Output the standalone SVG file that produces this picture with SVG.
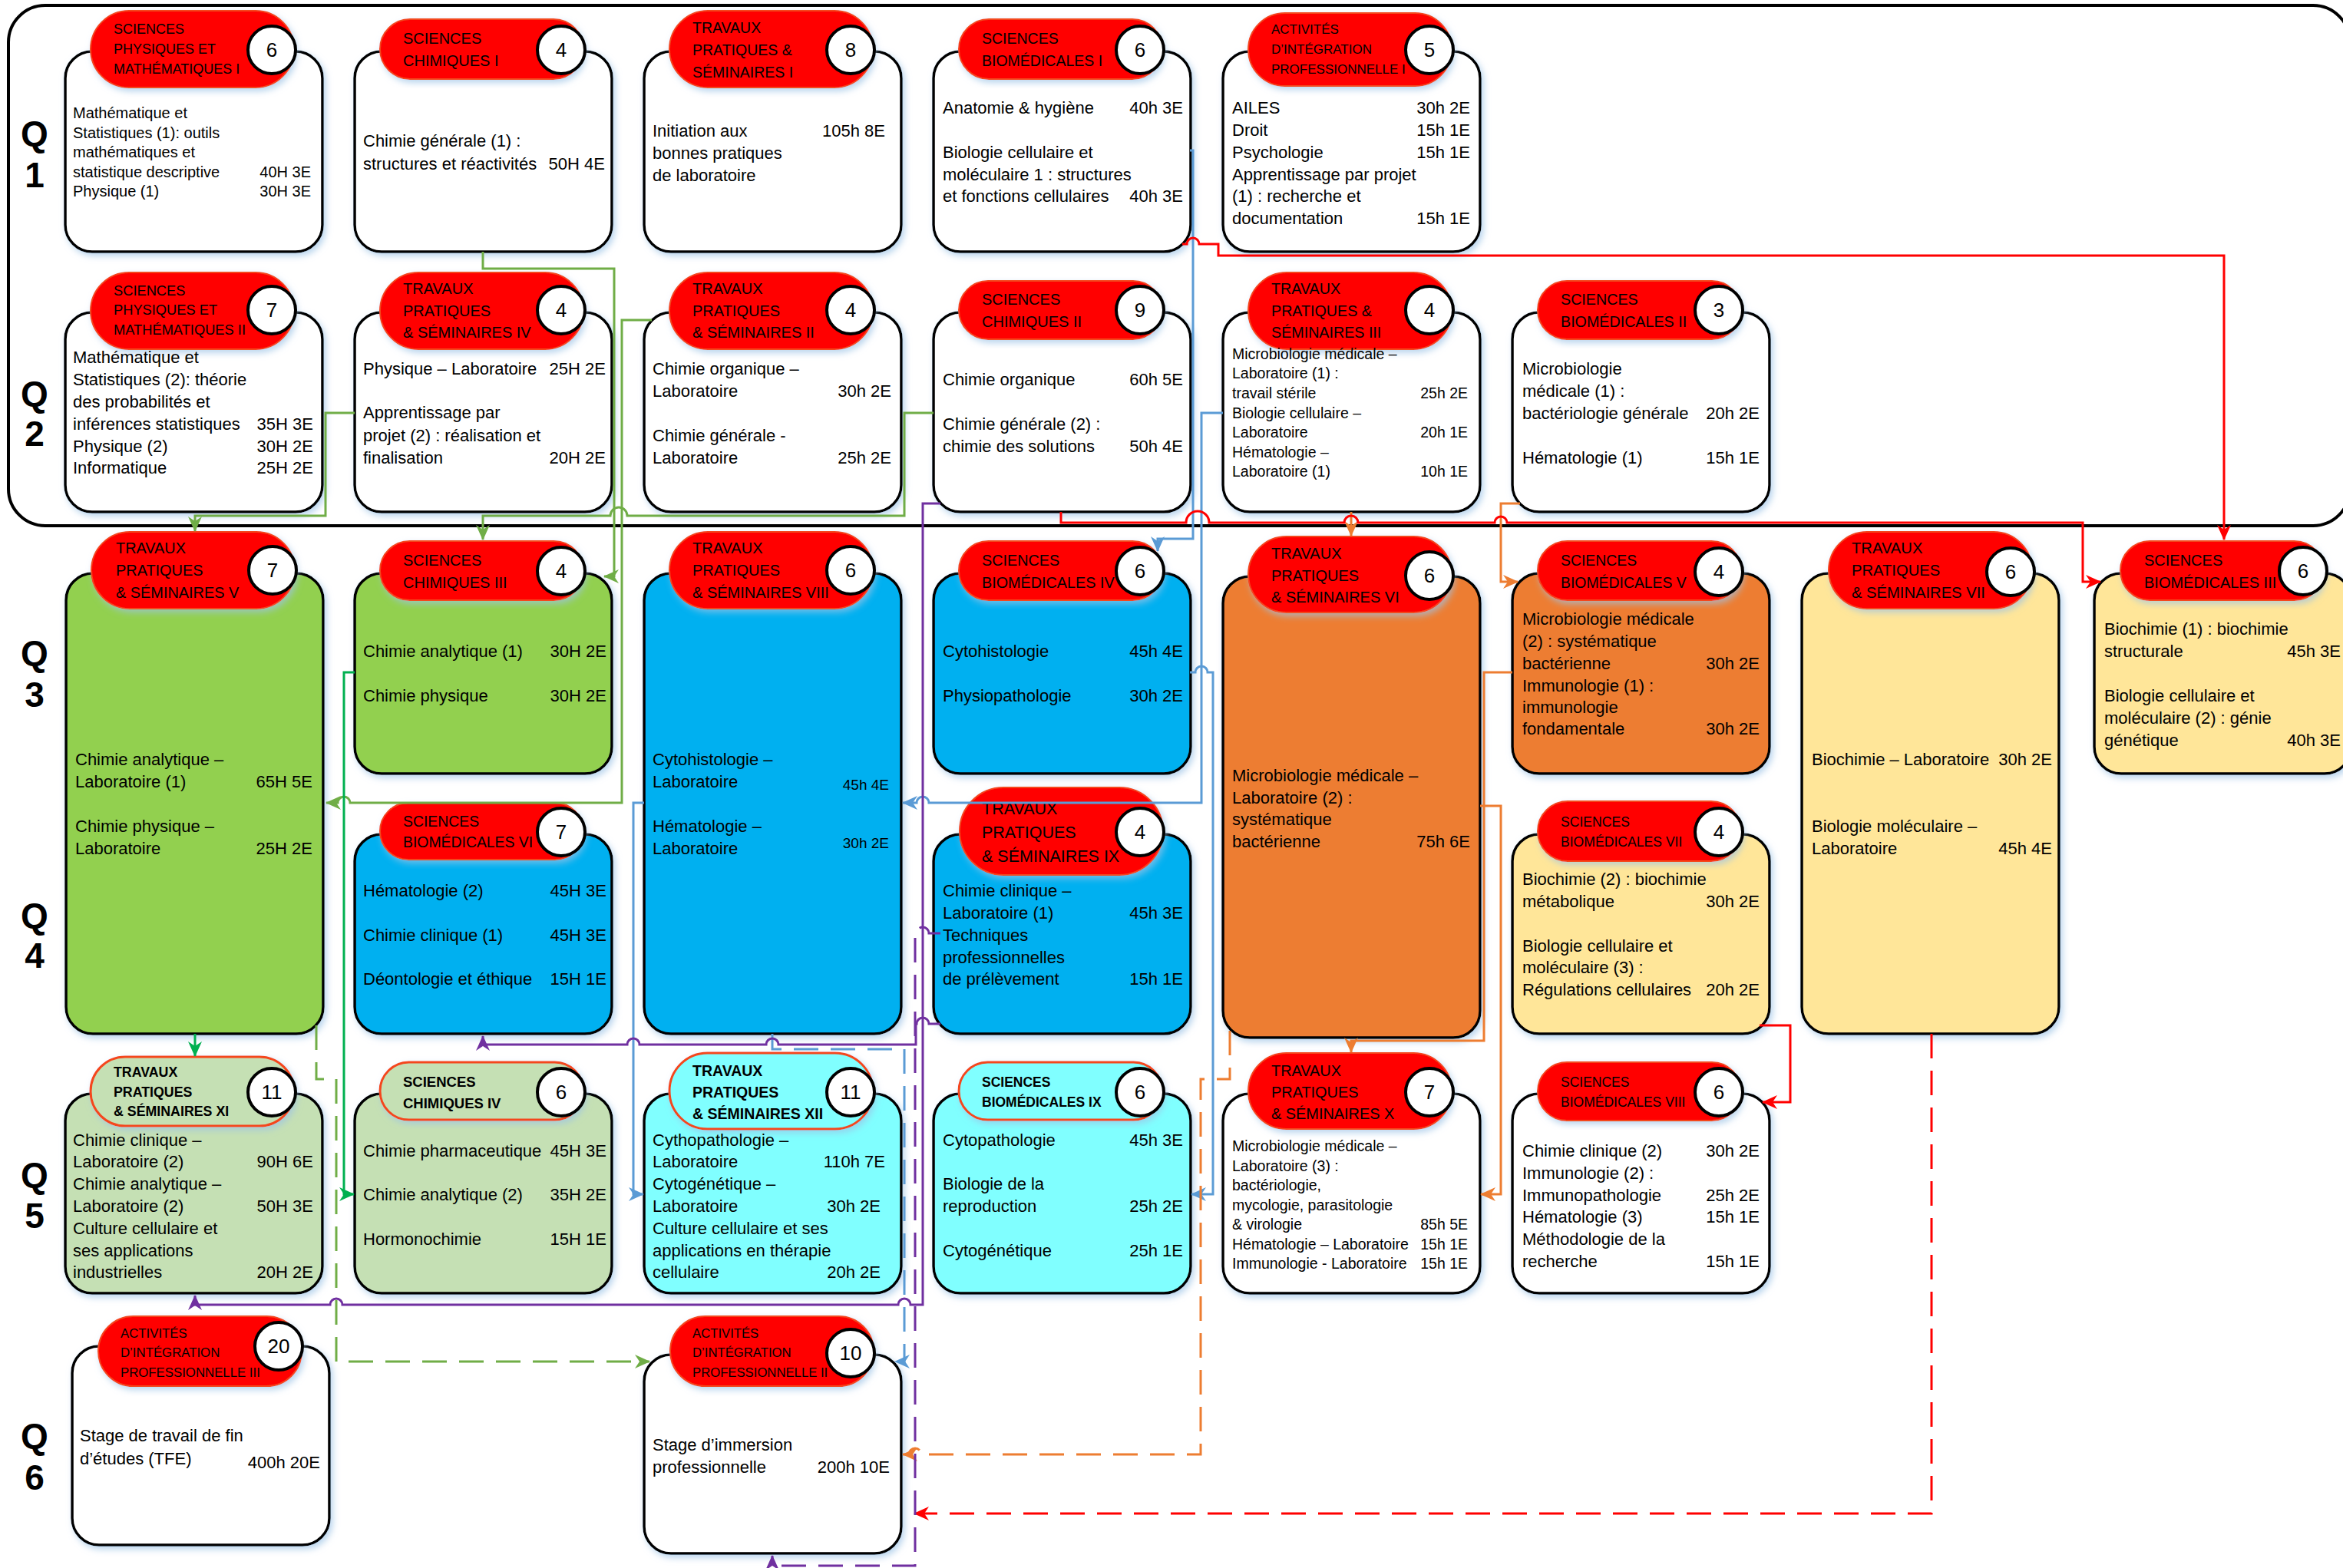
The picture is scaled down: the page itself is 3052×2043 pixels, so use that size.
<svg xmlns="http://www.w3.org/2000/svg" width="3052" height="2043" viewBox="0 0 3052 2043">
<style>
text{font-family:"Liberation Sans",Arial,sans-serif;fill:#000}
.box{stroke:#000;stroke-width:3.5;filter:url(#sh)}
.pill{fill:#FF0000;stroke:#F4471E;stroke-width:2;filter:url(#sh)}
.pl{stroke:#F4471E;stroke-width:3;filter:url(#sh)}
.circ{fill:#fff;stroke:#000;stroke-width:4}
.num{font-size:26px;text-anchor:middle}
.e{text-anchor:end}
.b{font-weight:bold}
.q{font-size:46px;font-weight:bold;text-anchor:middle}
.c{fill:none;stroke-width:3}
.d{stroke-dasharray:32 16}
.wh{fill:#fff}.gr{fill:#92D050}.bl{fill:#00B0F0}.or{fill:#ED7D31}.ye{fill:#FFE699}.lg{fill:#C5E0B4}.cy{fill:#80FFFF}
</style>
<defs>
<filter id="sh" x="-10%" y="-10%" width="125%" height="125%"><feDropShadow dx="3" dy="4" stdDeviation="4" flood-color="#9DC3E6" flood-opacity="0.7"/></filter>
<marker id="mG" markerUnits="userSpaceOnUse" markerWidth="20" markerHeight="18" refX="19" refY="9" orient="auto"><path d="M0,0 L20,9 L0,18 L6,9 Z" fill="#70AD47"/></marker>
<marker id="mD" markerUnits="userSpaceOnUse" markerWidth="20" markerHeight="18" refX="19" refY="9" orient="auto"><path d="M0,0 L20,9 L0,18 L6,9 Z" fill="#00B050"/></marker>
<marker id="mB" markerUnits="userSpaceOnUse" markerWidth="20" markerHeight="18" refX="19" refY="9" orient="auto"><path d="M0,0 L20,9 L0,18 L6,9 Z" fill="#5B9BD5"/></marker>
<marker id="mO" markerUnits="userSpaceOnUse" markerWidth="20" markerHeight="18" refX="19" refY="9" orient="auto"><path d="M0,0 L20,9 L0,18 L6,9 Z" fill="#ED7D31"/></marker>
<marker id="mR" markerUnits="userSpaceOnUse" markerWidth="20" markerHeight="18" refX="19" refY="9" orient="auto"><path d="M0,0 L20,9 L0,18 L6,9 Z" fill="#FF0000"/></marker>
<marker id="mP" markerUnits="userSpaceOnUse" markerWidth="20" markerHeight="18" refX="19" refY="9" orient="auto"><path d="M0,0 L20,9 L0,18 L6,9 Z" fill="#7030A0"/></marker>
</defs>
<rect width="3052" height="2043" fill="#fff"/>
<rect x="11" y="7" width="3050" height="678" rx="48" fill="none" stroke="#000" stroke-width="4"/>
<g id="qlabels">
<text class="q" x="45" y="190">Q</text><text class="q" x="45" y="244">1</text>
<text class="q" x="45" y="529">Q</text><text class="q" x="45" y="581">2</text>
<text class="q" x="45" y="867">Q</text><text class="q" x="45" y="921">3</text>
<text class="q" x="45" y="1209">Q</text><text class="q" x="45" y="1261">4</text>
<text class="q" x="45" y="1547">Q</text><text class="q" x="45" y="1600">5</text>
<text class="q" x="45" y="1887">Q</text><text class="q" x="45" y="1941">6</text>
</g>

<g id="n-spm1">
<rect class="box wh" x="85" y="67" width="335" height="261" rx="35"/>
<rect class="pill" x="118" y="14" width="265" height="100" rx="50"/>
<circle class="circ" cx="354" cy="65" r="31"/><text class="num" x="354" y="74">6</text>
<g font-size="18"><text x="148" y="44">SCIENCES</text><text x="148" y="70">PHYSIQUES ET</text><text x="148" y="96">MATHÉMATIQUES I</text></g>
<g font-size="20"><text x="95" y="154">Mathématique et</text><text x="95" y="180">Statistiques (1): outils</text><text x="95" y="205">mathématiques et</text><text x="95" y="231">statistique descriptive</text><text class="e" x="405" y="231">40H 3E</text><text x="95" y="256">Physique (1)</text><text class="e" x="405" y="256">30H 3E</text></g>
</g>

<g id="n-sc1">
<rect class="box wh" x="462" y="67" width="335" height="261" rx="35"/>
<rect class="pill" x="495" y="25" width="265" height="78" rx="39"/>
<circle class="circ" cx="731" cy="65" r="31"/><text class="num" x="731" y="74">4</text>
<g font-size="20"><text x="525" y="57">SCIENCES</text><text x="525" y="86">CHIMIQUES I</text></g>
<g font-size="22"><text x="473" y="191">Chimie générale (1) :</text><text x="473" y="221">structures et réactivités</text><text class="e" x="788" y="221">50H 4E</text></g>
</g>

<g id="n-tps1">
<rect class="box wh" x="839" y="67" width="335" height="261" rx="35"/>
<rect class="pill" x="872" y="14" width="265" height="100" rx="50"/>
<circle class="circ" cx="1108" cy="65" r="31"/><text class="num" x="1108" y="74">8</text>
<g font-size="19.5"><text x="902" y="43">TRAVAUX</text><text x="902" y="72">PRATIQUES &amp;</text><text x="902" y="101">SÉMINAIRES I</text></g>
<g font-size="22"><text x="850" y="178">Initiation aux</text><text class="e" x="1153" y="178">105h 8E</text><text x="850" y="207">bonnes pratiques</text><text x="850" y="236">de laboratoire</text></g>
</g>

<g id="n-sb1">
<rect class="box wh" x="1216" y="67" width="335" height="261" rx="35"/>
<rect class="pill" x="1249" y="25" width="265" height="78" rx="39"/>
<circle class="circ" cx="1485" cy="65" r="31"/><text class="num" x="1485" y="74">6</text>
<g font-size="19.5"><text x="1279" y="57">SCIENCES</text><text x="1279" y="86">BIOMÉDICALES I</text></g>
<g font-size="22"><text x="1228" y="148">Anatomie &amp; hygiène</text><text class="e" x="1541" y="148">40h 3E</text><text x="1228" y="206">Biologie cellulaire et</text><text x="1228" y="235">moléculaire 1 : structures</text><text x="1228" y="263">et fonctions cellulaires</text><text class="e" x="1541" y="263">40h 3E</text></g>
</g>

<g id="n-aip1">
<rect class="box wh" x="1593" y="67" width="335" height="261" rx="35"/>
<rect class="pill" x="1626" y="17" width="265" height="95" rx="47.5"/>
<circle class="circ" cx="1862" cy="65" r="31"/><text class="num" x="1862" y="74">5</text>
<g font-size="17"><text x="1656" y="44">ACTIVITÉS</text><text x="1656" y="70">D’INTÉGRATION</text><text x="1656" y="96">PROFESSIONNELLE I</text></g>
<g font-size="22"><text x="1605" y="148">AILES</text><text class="e" x="1915" y="148">30h 2E</text><text x="1605" y="177">Droit</text><text class="e" x="1915" y="177">15h 1E</text><text x="1605" y="206">Psychologie</text><text class="e" x="1915" y="206">15h 1E</text><text x="1605" y="235">Apprentissage par projet</text><text x="1605" y="263">(1) : recherche et</text><text x="1605" y="292">documentation</text><text class="e" x="1915" y="292">15h 1E</text></g>
</g>

<g id="n-spm2">
<rect class="box wh" x="85" y="407" width="335" height="260" rx="35"/>
<rect class="pill" x="118" y="355" width="265" height="100" rx="50"/>
<circle class="circ" cx="354" cy="404" r="31"/><text class="num" x="354" y="413">7</text>
<g font-size="18.3"><text x="148" y="385">SCIENCES</text><text x="148" y="410">PHYSIQUES ET</text><text x="148" y="436">MATHÉMATIQUES II</text></g>
<g font-size="22"><text x="95" y="473">Mathématique et</text><text x="95" y="502">Statistiques (2): théorie</text><text x="95" y="531">des probabilités et</text><text x="95" y="560">inférences statistiques</text><text class="e" x="408" y="560">35H 3E</text><text x="95" y="589">Physique (2)</text><text class="e" x="408" y="589">30H 2E</text><text x="95" y="617">Informatique</text><text class="e" x="408" y="617">25H 2E</text></g>
</g>

<g id="n-tps4">
<rect class="box wh" x="462" y="407" width="335" height="260" rx="35"/>
<rect class="pill" x="495" y="355" width="265" height="100" rx="50"/>
<circle class="circ" cx="731" cy="404" r="31"/><text class="num" x="731" y="413">4</text>
<g font-size="20"><text x="525" y="383">TRAVAUX</text><text x="525" y="412">PRATIQUES</text><text x="525" y="440">&amp; SÉMINAIRES IV</text></g>
<g font-size="22"><text x="473" y="488">Physique – Laboratoire</text><text class="e" x="789" y="488">25H 2E</text><text x="473" y="545">Apprentissage par</text><text x="473" y="575">projet (2) : réalisation et</text><text x="473" y="604">finalisation</text><text class="e" x="789" y="604">20H 2E</text></g>
</g>

<g id="n-tps2">
<rect class="box wh" x="839" y="407" width="335" height="260" rx="35"/>
<rect class="pill" x="872" y="355" width="265" height="100" rx="50"/>
<circle class="circ" cx="1108" cy="404" r="31"/><text class="num" x="1108" y="413">4</text>
<g font-size="20"><text x="902" y="383">TRAVAUX</text><text x="902" y="412">PRATIQUES</text><text x="902" y="440">&amp; SÉMINAIRES II</text></g>
<g font-size="22"><text x="850" y="488">Chimie organique –</text><text x="850" y="517">Laboratoire</text><text class="e" x="1161" y="517">30h 2E</text><text x="850" y="575">Chimie générale -</text><text x="850" y="604">Laboratoire</text><text class="e" x="1161" y="604">25h 2E</text></g>
</g>

<g id="n-sc2">
<rect class="box wh" x="1216" y="407" width="335" height="260" rx="35"/>
<rect class="pill" x="1249" y="366" width="265" height="76" rx="38"/>
<circle class="circ" cx="1485" cy="404" r="31"/><text class="num" x="1485" y="413">9</text>
<g font-size="20"><text x="1279" y="397">SCIENCES</text><text x="1279" y="426">CHIMIQUES II</text></g>
<g font-size="22"><text x="1228" y="502">Chimie organique</text><text class="e" x="1541" y="502">60h 5E</text><text x="1228" y="560">Chimie générale (2) :</text><text x="1228" y="589">chimie des solutions</text><text class="e" x="1541" y="589">50h 4E</text></g>
</g>

<g id="n-tps3">
<rect class="box wh" x="1593" y="407" width="335" height="260" rx="35"/>
<rect class="pill" x="1626" y="355" width="265" height="100" rx="50"/>
<circle class="circ" cx="1862" cy="404" r="31"/><text class="num" x="1862" y="413">4</text>
<g font-size="19.7"><text x="1656" y="383">TRAVAUX</text><text x="1656" y="412">PRATIQUES &amp;</text><text x="1656" y="440">SÉMINAIRES III</text></g>
<g font-size="19.5"><text x="1605" y="468">Microbiologie médicale –</text><text x="1605" y="493">Laboratoire (1) :</text><text x="1605" y="519">travail stérile</text><text class="e" x="1912" y="519">25h 2E</text><text x="1605" y="545">Biologie cellulaire –</text><text x="1605" y="570">Laboratoire</text><text class="e" x="1912" y="570">20h 1E</text><text x="1605" y="596">Hématologie –</text><text x="1605" y="621">Laboratoire (1)</text><text class="e" x="1912" y="621">10h 1E</text></g>
</g>

<g id="n-sb2">
<rect class="box wh" x="1970" y="407" width="335" height="260" rx="35"/>
<rect class="pill" x="2003" y="366" width="265" height="76" rx="38"/>
<circle class="circ" cx="2239" cy="404" r="31"/><text class="num" x="2239" y="413">3</text>
<g font-size="19.7"><text x="2033" y="397">SCIENCES</text><text x="2033" y="426">BIOMÉDICALES II</text></g>
<g font-size="22"><text x="1983" y="488">Microbiologie</text><text x="1983" y="517">médicale (1) :</text><text x="1983" y="546">bactériologie générale</text><text class="e" x="2292" y="546">20h 2E</text><text x="1983" y="604">Hématologie (1)</text><text class="e" x="2292" y="604">15h 1E</text></g>
</g>

<g id="n-tps5">
<rect class="box gr" x="86" y="747" width="335" height="600" rx="35"/>
<rect class="pill" x="119" y="693" width="265" height="100" rx="50"/>
<circle class="circ" cx="355" cy="743" r="31"/><text class="num" x="355" y="752">7</text>
<g font-size="19.9"><text x="151" y="721">TRAVAUX</text><text x="151" y="750">PRATIQUES</text><text x="151" y="779">&amp; SÉMINAIRES V</text></g>
<g font-size="22"><text x="98" y="997">Chimie analytique –</text><text x="98" y="1026">Laboratoire (1)</text><text class="e" x="407" y="1026">65H 5E</text><text x="98" y="1084">Chimie physique –</text><text x="98" y="1113">Laboratoire</text><text class="e" x="407" y="1113">25H 2E</text></g>
</g>

<g id="n-sc3">
<rect class="box gr" x="462" y="747" width="335" height="261" rx="35"/>
<rect class="pill" x="495" y="705" width="265" height="77" rx="38.5"/>
<circle class="circ" cx="731" cy="744" r="31"/><text class="num" x="731" y="753">4</text>
<g font-size="20"><text x="525" y="737">SCIENCES</text><text x="525" y="766">CHIMIQUES III</text></g>
<g font-size="22"><text x="473" y="856">Chimie analytique (1)</text><text class="e" x="790" y="856">30H 2E</text><text x="473" y="914">Chimie physique</text><text class="e" x="790" y="914">30H 2E</text></g>
</g>

<g id="n-tps8">
<rect class="box bl" x="839" y="747" width="335" height="600" rx="35"/>
<rect class="pill" x="872" y="693" width="265" height="100" rx="50"/>
<circle class="circ" cx="1108" cy="743" r="31"/><text class="num" x="1108" y="752">6</text>
<g font-size="20"><text x="902" y="721">TRAVAUX</text><text x="902" y="750">PRATIQUES</text><text x="902" y="779">&amp; SÉMINAIRES VIII</text></g>
<g font-size="22"><text x="850" y="997">Cytohistologie –</text><text x="850" y="1026">Laboratoire</text><text x="850" y="1084">Hématologie –</text><text x="850" y="1113">Laboratoire</text></g>
<g font-size="19"><text class="e" x="1158" y="1029">45h 4E</text><text class="e" x="1158" y="1105">30h 2E</text></g>
</g>

<g id="n-sb4">
<rect class="box bl" x="1216" y="747" width="335" height="261" rx="35"/>
<rect class="pill" x="1249" y="705" width="265" height="77" rx="38.5"/>
<circle class="circ" cx="1485" cy="744" r="31"/><text class="num" x="1485" y="753">6</text>
<g font-size="19.8"><text x="1279" y="737">SCIENCES</text><text x="1279" y="766">BIOMÉDICALES IV</text></g>
<g font-size="22"><text x="1228" y="856">Cytohistologie</text><text class="e" x="1541" y="856">45h 4E</text><text x="1228" y="914">Physiopathologie</text><text class="e" x="1541" y="914">30h 2E</text></g>
</g>

<g id="n-tps6">
<rect class="box or" x="1593" y="751" width="335" height="601" rx="35"/>
<rect class="pill" x="1626" y="699" width="265" height="99" rx="49.5"/>
<circle class="circ" cx="1862" cy="750" r="31"/><text class="num" x="1862" y="759">6</text>
<g font-size="20"><text x="1656" y="728">TRAVAUX</text><text x="1656" y="757">PRATIQUES</text><text x="1656" y="785">&amp; SÉMINAIRES VI</text></g>
<g font-size="22"><text x="1605" y="1018">Microbiologie médicale –</text><text x="1605" y="1047">Laboratoire (2) :</text><text x="1605" y="1075">systématique</text><text x="1605" y="1104">bactérienne</text><text class="e" x="1915" y="1104">75h 6E</text></g>
</g>

<g id="n-sb5">
<rect class="box or" x="1970" y="747" width="335" height="261" rx="35"/>
<rect class="pill" x="2003" y="705" width="265" height="77" rx="38.5"/>
<circle class="circ" cx="2239" cy="745" r="31"/><text class="num" x="2239" y="754">4</text>
<g font-size="19.4"><text x="2033" y="737">SCIENCES</text><text x="2033" y="766">BIOMÉDICALES V</text></g>
<g font-size="22"><text x="1983" y="814">Microbiologie médicale</text><text x="1983" y="843">(2) : systématique</text><text x="1983" y="872">bactérienne</text><text class="e" x="2292" y="872">30h 2E</text><text x="1983" y="901">Immunologie (1) :</text><text x="1983" y="929">immunologie</text><text x="1983" y="957">fondamentale</text><text class="e" x="2292" y="957">30h 2E</text></g>
</g>

<g id="n-tps7">
<rect class="box ye" x="2347" y="747" width="335" height="600" rx="35"/>
<rect class="pill" x="2382" y="693" width="265" height="100" rx="50"/>
<circle class="circ" cx="2619" cy="745" r="31"/><text class="num" x="2619" y="754">6</text>
<g font-size="20.2"><text x="2412" y="721">TRAVAUX</text><text x="2412" y="750">PRATIQUES</text><text x="2412" y="779">&amp; SÉMINAIRES VII</text></g>
<g font-size="22"><text x="2360" y="997">Biochimie – Laboratoire</text><text class="e" x="2673" y="997">30h 2E</text><text x="2360" y="1084">Biologie moléculaire –</text><text x="2360" y="1113">Laboratoire</text><text class="e" x="2673" y="1113">45h 4E</text></g>
</g>

<g id="n-sb3">
<rect class="box ye" x="2728" y="747" width="335" height="261" rx="35"/>
<rect class="pill" x="2762" y="705" width="265" height="77" rx="38.5"/>
<circle class="circ" cx="3000" cy="744" r="31"/><text class="num" x="3000" y="753">6</text>
<g font-size="20"><text x="2793" y="737">SCIENCES</text><text x="2793" y="766">BIOMÉDICALES III</text></g>
<g font-size="22"><text x="2741" y="827">Biochimie (1) : biochimie</text><text x="2741" y="856">structurale</text><text class="e" x="3049" y="856">45h 3E</text><text x="2741" y="914">Biologie cellulaire et</text><text x="2741" y="943">moléculaire (2) : génie</text><text x="2741" y="972">génétique</text><text class="e" x="3049" y="972">40h 3E</text></g>
</g>

<g id="n-sb6">
<rect class="box bl" x="462" y="1087" width="335" height="260" rx="35"/>
<rect class="pill" x="495" y="1046" width="265" height="74" rx="37"/>
<circle class="circ" cx="731" cy="1084" r="31"/><text class="num" x="731" y="1093">7</text>
<g font-size="19.4"><text x="525" y="1077">SCIENCES</text><text x="525" y="1104">BIOMÉDICALES VI</text></g>
<g font-size="22"><text x="473" y="1168">Hématologie (2)</text><text class="e" x="790" y="1168">45H 3E</text><text x="473" y="1226">Chimie clinique (1)</text><text class="e" x="790" y="1226">45H 3E</text><text x="473" y="1283">Déontologie et éthique</text><text class="e" x="790" y="1283">15H 1E</text></g>
</g>

<g id="n-tps9">
<rect class="box bl" x="1216" y="1087" width="335" height="260" rx="35"/>
<rect class="pill" x="1250" y="1026" width="265" height="114" rx="57"/>
<circle class="circ" cx="1485" cy="1084" r="31"/><text class="num" x="1485" y="1093">4</text>
<g font-size="21.5"><text x="1279" y="1061">TRAVAUX</text><text x="1279" y="1092">PRATIQUES</text><text x="1279" y="1123">&amp; SÉMINAIRES IX</text></g>
<g font-size="22"><text x="1228" y="1168">Chimie clinique –</text><text x="1228" y="1197">Laboratoire (1)</text><text class="e" x="1541" y="1197">45h 3E</text><text x="1228" y="1226">Techniques</text><text x="1228" y="1255">professionnelles</text><text x="1228" y="1283">de prélèvement</text><text class="e" x="1541" y="1283">15h 1E</text></g>
</g>

<g id="n-sb7">
<rect class="box ye" x="1970" y="1087" width="335" height="260" rx="35"/>
<rect class="pill" x="2003" y="1044" width="265" height="78" rx="39"/>
<circle class="circ" cx="2239" cy="1084" r="31"/><text class="num" x="2239" y="1093">4</text>
<g font-size="17.6"><text x="2033" y="1077">SCIENCES</text><text x="2033" y="1103">BIOMÉDICALES VII</text></g>
<g font-size="22"><text x="1983" y="1153">Biochimie (2) : biochimie</text><text x="1983" y="1182">métabolique</text><text class="e" x="2292" y="1182">30h 2E</text><text x="1983" y="1240">Biologie cellulaire et</text><text x="1983" y="1268">moléculaire (3) :</text><text x="1983" y="1297">Régulations cellulaires</text><text class="e" x="2292" y="1297">20h 2E</text></g>
</g>

<g id="n-tps11">
<rect class="box lg" x="85" y="1425" width="335" height="260" rx="35"/>
<rect class="pl lg" x="118" y="1377" width="265" height="90" rx="45"/>
<circle class="circ" cx="354" cy="1423" r="31"/><text class="num" x="354" y="1432">11</text>
<g font-size="17.8" class="b"><text x="148" y="1403">TRAVAUX</text><text x="148" y="1429">PRATIQUES</text><text x="148" y="1454">&amp; SÉMINAIRES XI</text></g>
<g font-size="22"><text x="95" y="1493">Chimie clinique –</text><text x="95" y="1521">Laboratoire (2)</text><text class="e" x="408" y="1521">90H 6E</text><text x="95" y="1550">Chimie analytique –</text><text x="95" y="1579">Laboratoire (2)</text><text class="e" x="408" y="1579">50H 3E</text><text x="95" y="1608">Culture cellulaire et</text><text x="95" y="1637">ses applications</text><text x="95" y="1665">industrielles</text><text class="e" x="408" y="1665">20H 2E</text></g>
</g>

<g id="n-sc4">
<rect class="box lg" x="462" y="1425" width="335" height="260" rx="35"/>
<rect class="pl lg" x="495" y="1384" width="265" height="75" rx="37.5"/>
<circle class="circ" cx="731" cy="1423" r="31"/><text class="num" x="731" y="1432">6</text>
<g font-size="18.5" class="b"><text x="525" y="1416">SCIENCES</text><text x="525" y="1444">CHIMIQUES IV</text></g>
<g font-size="22"><text x="473" y="1507">Chimie pharmaceutique</text><text class="e" x="790" y="1507">45H 3E</text><text x="473" y="1564">Chimie analytique (2)</text><text class="e" x="790" y="1564">35H 2E</text><text x="473" y="1622">Hormonochimie</text><text class="e" x="790" y="1622">15H 1E</text></g>
</g>

<g id="n-tps12">
<rect class="box cy" x="839" y="1425" width="335" height="260" rx="35"/>
<rect class="pl cy" x="872" y="1372" width="265" height="99" rx="49.5"/>
<circle class="circ" cx="1108" cy="1423" r="31"/><text class="num" x="1108" y="1432">11</text>
<g font-size="19.5" class="b"><text x="902" y="1402">TRAVAUX</text><text x="902" y="1430">PRATIQUES</text><text x="902" y="1458">&amp; SÉMINAIRES XII</text></g>
<g font-size="22"><text x="850" y="1493">Cythopathologie –</text><text x="850" y="1521">Laboratoire</text><text class="e" x="1153" y="1521">110h 7E</text><text x="850" y="1550">Cytogénétique –</text><text x="850" y="1579">Laboratoire</text><text class="e" x="1147" y="1579">30h 2E</text><text x="850" y="1608">Culture cellulaire et ses</text><text x="850" y="1637">applications en thérapie</text><text x="850" y="1665">cellulaire</text><text class="e" x="1147" y="1665">20h 2E</text></g>
</g>

<g id="n-sb9">
<rect class="box cy" x="1216" y="1425" width="335" height="260" rx="35"/>
<rect class="pl cy" x="1249" y="1384" width="265" height="75" rx="37.5"/>
<circle class="circ" cx="1485" cy="1423" r="31"/><text class="num" x="1485" y="1432">6</text>
<g font-size="17.5" class="b"><text x="1279" y="1416">SCIENCES</text><text x="1279" y="1442">BIOMÉDICALES IX</text></g>
<g font-size="22"><text x="1228" y="1493">Cytopathologie</text><text class="e" x="1541" y="1493">45h 3E</text><text x="1228" y="1550">Biologie de la</text><text x="1228" y="1579">reproduction</text><text class="e" x="1541" y="1579">25h 2E</text><text x="1228" y="1637">Cytogénétique</text><text class="e" x="1541" y="1637">25h 1E</text></g>
</g>

<g id="n-tps10">
<rect class="box wh" x="1593" y="1425" width="335" height="260" rx="35"/>
<rect class="pill" x="1626" y="1372" width="265" height="99" rx="49.5"/>
<circle class="circ" cx="1862" cy="1423" r="31"/><text class="num" x="1862" y="1432">7</text>
<g font-size="19.9"><text x="1656" y="1402">TRAVAUX</text><text x="1656" y="1430">PRATIQUES</text><text x="1656" y="1458">&amp; SÉMINAIRES X</text></g>
<g font-size="19.5"><text x="1605" y="1500">Microbiologie médicale –</text><text x="1605" y="1526">Laboratoire (3) :</text><text x="1605" y="1551">bactériologie,</text><text x="1605" y="1577">mycologie, parasitologie</text><text x="1605" y="1602">&amp; virologie</text><text class="e" x="1912" y="1602">85h 5E</text><text x="1605" y="1628">Hématologie – Laboratoire</text><text class="e" x="1912" y="1628">15h 1E</text><text x="1605" y="1653">Immunologie - Laboratoire</text><text class="e" x="1912" y="1653">15h 1E</text></g>
</g>

<g id="n-sb8">
<rect class="box wh" x="1970" y="1425" width="335" height="260" rx="35"/>
<rect class="pill" x="2003" y="1384" width="265" height="76" rx="38"/>
<circle class="circ" cx="2239" cy="1423" r="31"/><text class="num" x="2239" y="1432">6</text>
<g font-size="17.5"><text x="2033" y="1416">SCIENCES</text><text x="2033" y="1442">BIOMÉDICALES VIII</text></g>
<g font-size="22"><text x="1983" y="1507">Chimie clinique (2)</text><text class="e" x="2292" y="1507">30h 2E</text><text x="1983" y="1536">Immunologie (2) :</text><text x="1983" y="1565">Immunopathologie</text><text class="e" x="2292" y="1565">25h 2E</text><text x="1983" y="1593">Hématologie (3)</text><text class="e" x="2292" y="1593">15h 1E</text><text x="1983" y="1622">Méthodologie de la</text><text x="1983" y="1651">recherche</text><text class="e" x="2292" y="1651">15h 1E</text></g>
</g>

<g id="n-aip3">
<rect class="box wh" x="94" y="1754" width="335" height="259" rx="35"/>
<rect class="pill" x="128" y="1715" width="265" height="91" rx="45.5"/>
<circle class="circ" cx="363" cy="1754" r="31"/><text class="num" x="363" y="1763">20</text>
<g font-size="16.8"><text x="157" y="1743">ACTIVITÉS</text><text x="157" y="1768">D’INTÉGRATION</text><text x="157" y="1794">PROFESSIONNELLE III</text></g>
<g font-size="22"><text x="104" y="1878">Stage de travail de fin</text><text x="104" y="1908">d’études (TFE)</text><text class="e" x="417" y="1913">400h 20E</text></g>
</g>

<g id="n-aip2">
<rect class="box wh" x="839" y="1765" width="335" height="259" rx="35"/>
<rect class="pill" x="873" y="1715" width="265" height="91" rx="45.5"/>
<circle class="circ" cx="1108" cy="1763" r="31"/><text class="num" x="1108" y="1772">10</text>
<g font-size="16.7"><text x="902" y="1743">ACTIVITÉS</text><text x="902" y="1768">D’INTÉGRATION</text><text x="902" y="1794">PROFESSIONNELLE II</text></g>
<g font-size="22"><text x="850" y="1890">Stage d’immersion</text><text x="850" y="1919">professionnelle</text><text class="e" x="1159" y="1919">200h 10E</text></g>
</g>

<g id="connectors">
<path class="c" stroke="#70AD47" marker-end="url(#mG)" d="M629,328 V350 H800 V751 H787"/>
<path class="c" stroke="#70AD47" marker-end="url(#mG)" d="M849,417 H810 V1046 H456 A8,8 0 0 0 440,1046 H425"/>
<path class="c" stroke="#70AD47" marker-end="url(#mG)" d="M1216,538 H1178 V672 H817 A11,11 0 0 0 795,672 H629 V703"/>
<path class="c" stroke="#70AD47" marker-end="url(#mG)" d="M462,538 H424 V672 H254 V692"/>
<path class="c" stroke="#00B050" marker-end="url(#mD)" d="M462,876 H448 V1556 H461"/>
<path class="c" stroke="#00B050" marker-end="url(#mD)" d="M254,1347 V1376"/>
<path class="c d" stroke="#70AD47" marker-end="url(#mG)" d="M412,1336 V1406 H438 V1774 H846"/>
<path class="c" stroke="#5B9BD5" marker-end="url(#mB)" d="M1550,196 H1554 V702 H1508 V718"/>
<path class="c" stroke="#5B9BD5" marker-end="url(#mB)" d="M1593,538 H1565 V1046 H1210 A8,8 0 0 0 1194,1046 H1176"/>
<path class="c" stroke="#5B9BD5" marker-end="url(#mB)" d="M1550,876 H1557 A8,8 0 0 1 1573,876 H1580 V1556 H1552"/>
<path class="c" stroke="#5B9BD5" marker-end="url(#mB)" d="M839,1046 H825 V1556 H838"/>
<path class="c d" stroke="#5B9BD5" marker-end="url(#mB)" d="M1006,1347 V1367 H1178 V1774 H1166"/>
<path class="c" stroke="#ED7D31" marker-end="url(#mO)" d="M1760,667 V698"/>
<path class="c" stroke="#ED7D31" marker-end="url(#mO)" d="M1980,656 H1955 V758 H1977"/>
<path class="c" stroke="#ED7D31" marker-end="url(#mO)" d="M1970,876 H1933 V1356 H1760 V1371"/>
<path class="c" stroke="#ED7D31" marker-end="url(#mO)" d="M1928,1050 H1955 V1556 H1929"/>
<path class="c d" stroke="#ED7D31" marker-end="url(#mO)" d="M1602,1343 V1406 H1564 V1895 H1200 A8,8 0 0 0 1184,1895 H1176"/>
<path class="c" stroke="#FF0000" marker-end="url(#mR)" d="M1540,318 H1546 A8,8 0 0 1 1562,318 H1587 V333 H2897 V703"/>
<path class="c" stroke="#FF0000" marker-end="url(#mR)" d="M1382,667 V681 H1545 A15,15 0 0 1 1575,681 H1751 A9,9 0 0 1 1769,681 H1947 A8,8 0 0 1 1963,681 H2713 V758 H2736"/>
<path class="c" stroke="#FF0000" marker-end="url(#mR)" d="M2292,1336 H2332 V1436 H2296"/>
<path class="c d" stroke="#FF0000" marker-end="url(#mR)" d="M2516,1347 V1972 H1191"/>
<path class="c" stroke="#7030A0" marker-end="url(#mP)" d="M1225,656 H1202 V1700 H1186 A8,8 0 0 0 1170,1700 H446 A8,8 0 0 0 430,1700 H254 V1688"/>
<path class="c" stroke="#7030A0" marker-end="url(#mP)" d="M1225,1334 H1210 A8,8 0 0 0 1194,1334 H1193 V1361 H1014 A8,8 0 0 0 998,1361 H833 A8,8 0 0 0 817,1361 H629 V1350"/>
<path class="c d" stroke="#7030A0" marker-end="url(#mP)" d="M1225,1216 H1210 A8,8 0 0 0 1194,1216 H1192 V2040 H1006 V2027"/>
</g>
</svg>
